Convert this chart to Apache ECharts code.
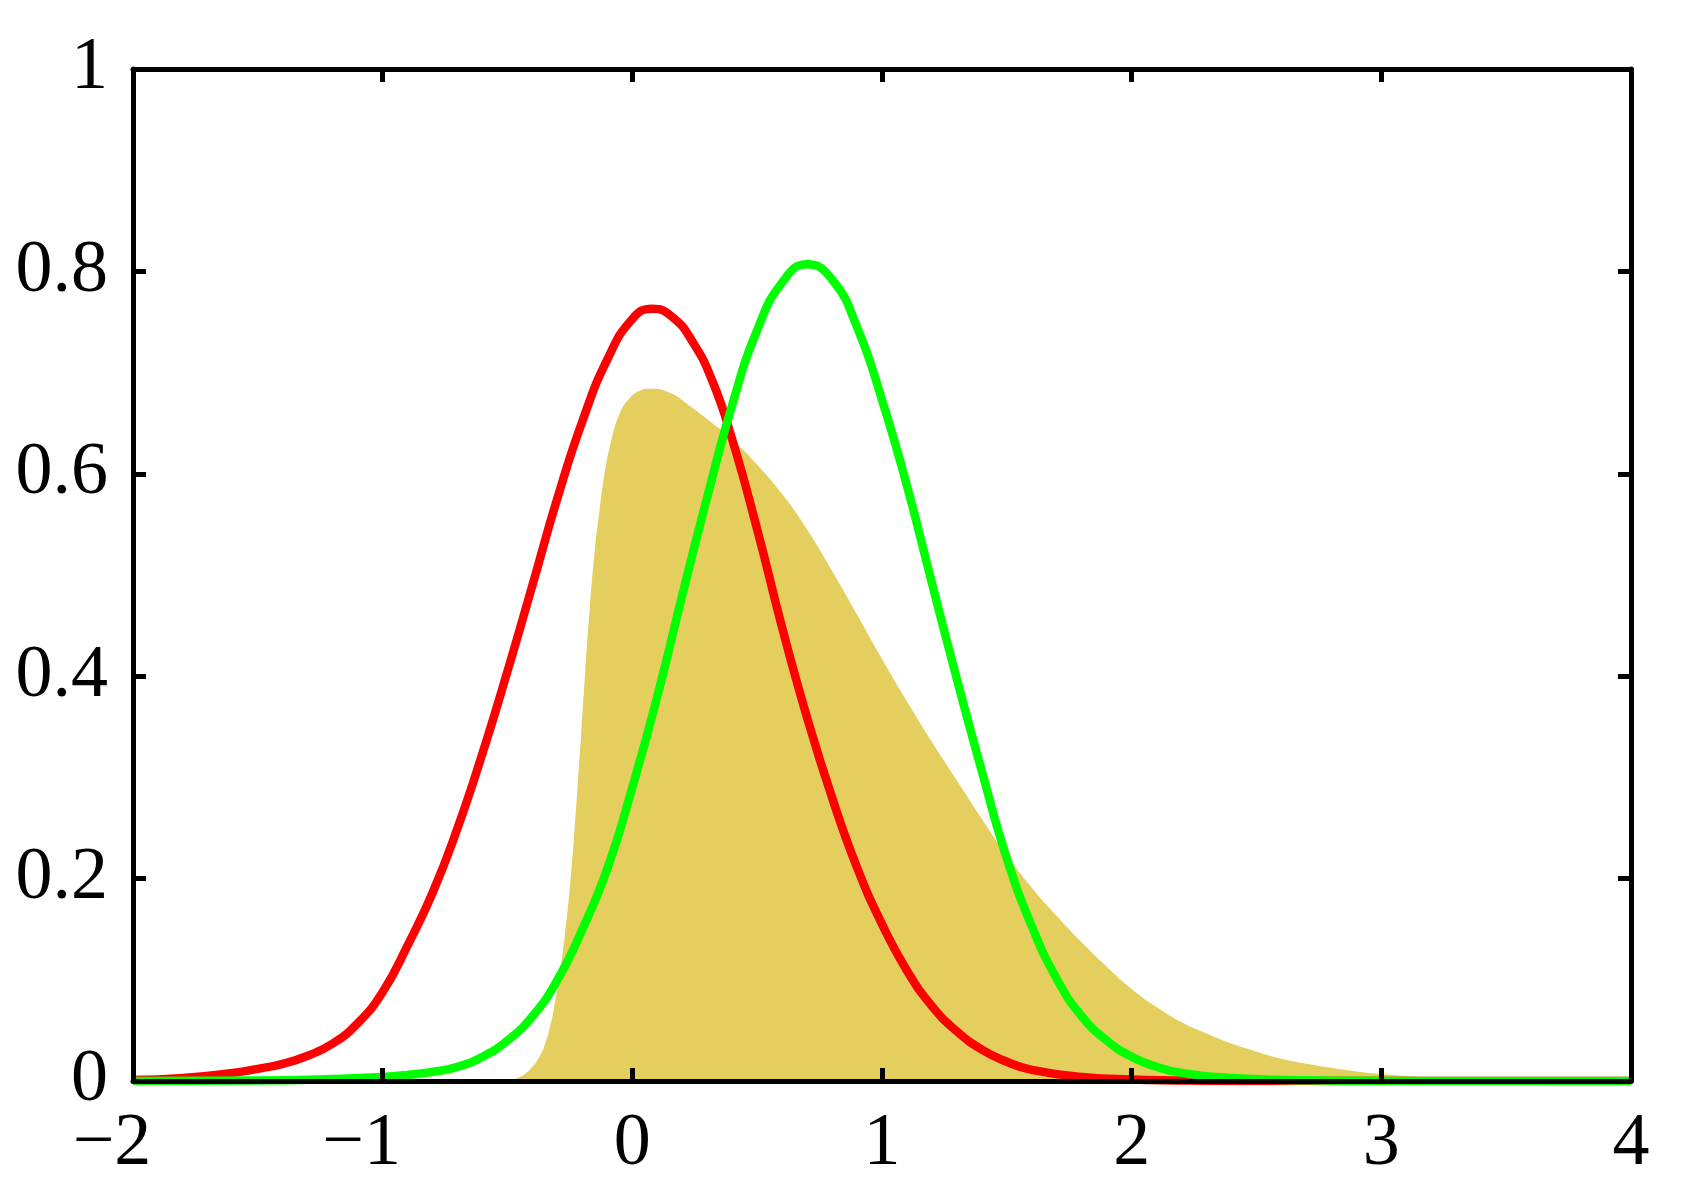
<!DOCTYPE html>
<html>
<head>
<meta charset="utf-8">
<script src="https://cdn.jsdelivr.net/npm/echarts@6/dist/echarts.min.js"></script>
<style>
  html, body { margin: 0; padding: 0; background: #fff; }
  #chart { width: 1683px; height: 1183px; }
</style>
</head>
<body>
<div id="chart"></div>
<script>
// 坐标轴刻度
var xTicks = [-2, -1, 0, 1, 2, 3, 4];
var yTicks = [0, 0.2, 0.4, 0.6, 0.8, 1];

// 红色曲线
var redX = [-2.0, -1.8, -1.6, -1.5, -1.4, -1.3, -1.2, -1.1, -1.0, -0.9, -0.8, -0.7, -0.6, -0.5, -0.4, -0.3,
  -0.2, -0.1, 0.0, 0.08, 0.16, 0.24, 0.32, 0.4, 0.5, 0.6, 0.7, 0.8, 0.9, 1.0, 1.1, 1.2, 1.3,
  1.4, 1.5, 1.6, 1.8, 2.0, 2.3, 2.6, 4.0];
var redY = [0.001, 0.003, 0.008, 0.012, 0.017, 0.025, 0.037, 0.057, 0.088, 0.134, 0.186, 0.250, 0.324, 0.405, 0.490, 0.576,
  0.652, 0.713, 0.753, 0.763, 0.755, 0.731, 0.692, 0.634, 0.545, 0.448, 0.359, 0.280, 0.211, 0.155, 0.109, 0.074, 0.049,
  0.031, 0.019, 0.011, 0.004, 0.0015, 0.0003, 0, 0];

// 绿色曲线
var greenX = [-2.0, -1.5, -1.2, -1.0, -0.9, -0.8, -0.7, -0.6, -0.5, -0.4, -0.3, -0.2, -0.1, 0.0, 0.1, 0.2,
  0.3, 0.4, 0.5, 0.6, 0.7, 0.8, 0.9, 1.0, 1.1, 1.2, 1.3, 1.4, 1.5, 1.6, 1.7, 1.8, 1.9,
  2.0, 2.1, 2.2, 2.4, 2.7, 3.0, 4.0];
var greenY = [0, 0.0005, 0.002, 0.004, 0.006, 0.009, 0.014, 0.024, 0.040, 0.064, 0.100, 0.150, 0.210, 0.290, 0.380, 0.480,
  0.577, 0.668, 0.742, 0.789, 0.807, 0.792, 0.745, 0.673, 0.588, 0.492, 0.397, 0.306, 0.220, 0.153, 0.101, 0.064, 0.040,
  0.024, 0.014, 0.008, 0.003, 0.0008, 0.0002, 0];

// 黄色填充区域
var areaX = [-2.0, -0.5, -0.48, -0.46, -0.43, -0.40, -0.37, -0.35, -0.33, -0.31, -0.29, -0.27, -0.25,
  -0.235, -0.22, -0.205, -0.19, -0.17, -0.15, -0.13, -0.11, -0.09, -0.05, -0.01, 0.03, 0.07, 0.15, 0.23, 0.31,
  0.4, 0.5, 0.6, 0.7, 0.8, 0.9, 1.0, 1.1, 1.2, 1.3, 1.4, 1.5, 1.6, 1.7, 1.8, 1.9, 2.0, 2.1, 2.2, 2.3,
  2.4, 2.5, 2.6, 2.7, 2.8, 2.9, 3.0, 3.1, 3.2, 3.3, 4.0];
var areaY = [0, 0, 0.001, 0.003, 0.007, 0.014, 0.025, 0.036, 0.053, 0.077, 0.107, 0.145, 0.192,
  0.237, 0.288, 0.342, 0.400, 0.469, 0.525, 0.567, 0.602, 0.627, 0.660, 0.675, 0.682, 0.684, 0.680, 0.667, 0.652,
  0.634, 0.609, 0.580, 0.545, 0.504, 0.461, 0.417, 0.375, 0.335, 0.297, 0.259, 0.223, 0.191, 0.163, 0.137, 0.113,
  0.091, 0.073, 0.058, 0.047, 0.037, 0.029, 0.022, 0.017, 0.013, 0.0095, 0.007, 0.005, 0.003, 0, 0];

function zip(xs, ys) {
  var out = [];
  for (var i = 0; i < xs.length; i++) out.push([xs[i], ys[i]]);
  return out;
}

var FONT = 'Liberation Serif';
var LINE_W = 5;

function boxAxis(pos, isX, showLabel) {
  var ax = {
    type: 'value',
    position: pos,
    min: isX ? xTicks[0] : yTicks[0],
    max: isX ? xTicks[xTicks.length - 1] : yTicks[yTicks.length - 1],
    interval: isX ? 1 : 0.2,
    z: 5,
    axisLine: { show: true, onZero: false, lineStyle: { color: '#000', width: LINE_W } },
    axisTick: { show: true, inside: true, length: 13, lineStyle: { color: '#000', width: LINE_W } },
    splitLine: { show: false },
    axisLabel: { show: false }
  };
  if (showLabel) {
    if (isX) {
      ax.axisLabel = {
        show: true, margin: 27, showMinLabel: true, showMaxLabel: true,
        formatter: function(v) {
          // 负号悬在左边, 数字居中对齐刻度
          if (v < 0) return '{n|\u2212' + (-v) + '}{p|\u00a0}';
          return '{n|' + v + '}';
        },
        rich: {
          n: { fontFamily: FONT, fontSize: 74, color: '#000' },
          p: { fontFamily: FONT, fontSize: 74, width: 42 }
        }
      };
    } else {
      ax.axisLabel = {
        show: true, margin: 25, showMinLabel: true, showMaxLabel: true,
        fontFamily: FONT, fontSize: 74, color: '#000'
      };
    }
  }
  return ax;
}

var chart = echarts.init(document.getElementById('chart'), null, { renderer: 'canvas' });

chart.setOption({
  animation: false,
  backgroundColor: '#fff',
  grid: { left: 133, right: 52, top: 69, bottom: 102 },
  xAxis: [boxAxis('bottom', true, true), boxAxis('top', true, false)],
  yAxis: [boxAxis('left', false, true), boxAxis('right', false, false)],
  series: [
    {
      type: 'line', data: zip(areaX, areaY), showSymbol: false, smooth: 0.5,
      lineStyle: { width: 0 },
      areaStyle: { color: '#e4ce5d', opacity: 1 },
      z: 1
    },
    {
      type: 'line', data: zip(redX, redY), showSymbol: false, smooth: 0.5,
      lineStyle: { color: '#ff0000', width: 8.5 },
      z: 2
    },
    {
      type: 'line', data: zip(greenX, greenY), showSymbol: false, smooth: 0.5,
      lineStyle: { color: '#00ff00', width: 8.5 },
      z: 3
    }
  ]
});
</script>
</body>
</html>
